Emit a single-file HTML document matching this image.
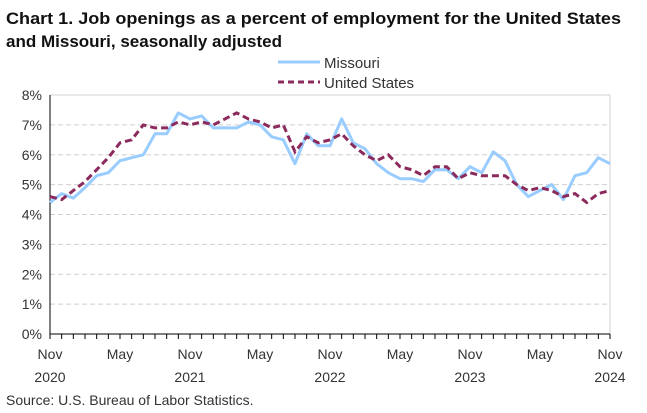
<!DOCTYPE html>
<html><head><meta charset="utf-8"><style>
body{margin:0;background:#fff;}
svg{display:block;font-family:"Liberation Sans",sans-serif;}
</style></head><body>
<svg width="647" height="413" viewBox="0 0 647 413">
<text x="6" y="24" font-size="16.5" font-weight="bold" fill="#111" textLength="615" lengthAdjust="spacingAndGlyphs">Chart 1. Job openings as a percent of employment for the United States</text>
<text x="6" y="47" font-size="16.5" font-weight="bold" fill="#111" textLength="276" lengthAdjust="spacingAndGlyphs">and Missouri, seasonally adjusted</text>
<g>
<line x1="278" y1="62" x2="320" y2="62" stroke="#99ccff" stroke-width="3"/>
<text x="324" y="68" font-size="15" fill="#333">Missouri</text>
<line x1="278" y1="82" x2="320" y2="82" stroke="#8b2a5c" stroke-width="3" stroke-dasharray="6,4"/>
<text x="324" y="88" font-size="15" fill="#333">United States</text>
</g>
<g id="grid"></g>
<g id="axes"></g>
<g id="series"></g>
<text x="6" y="405" font-size="14" fill="#333">Source: U.S. Bureau of Labor Statistics.</text>
</svg>
<script>
const yTicks=[0,1,2,3,4,5,6,7,8];
const xLabelIdx=[0,6,12,18,24,30,36,42,48];
const xLabelMonth=["Nov","May","Nov","May","Nov","May","Nov","May","Nov"];
const xLabelYear=["2020","","2021","","2022","","2023","","2024"];
const missouri=[4.4,4.7,4.55,4.9,5.3,5.4,5.8,5.9,6.0,6.7,6.7,7.4,7.2,7.3,6.9,6.9,6.9,7.1,7.0,6.6,6.5,5.7,6.7,6.3,6.3,7.2,6.4,6.2,5.7,5.4,5.2,5.2,5.1,5.5,5.5,5.2,5.6,5.4,6.1,5.8,5.0,4.6,4.8,5.0,4.5,5.3,5.4,5.9,5.7];
const unitedStates=[4.6,4.5,4.8,5.1,5.5,5.9,6.4,6.5,7.0,6.9,6.9,7.1,7.0,7.1,7.0,7.2,7.4,7.2,7.1,6.9,7.0,6.1,6.6,6.4,6.5,6.7,6.3,6.0,5.8,6.0,5.6,5.5,5.3,5.6,5.6,5.2,5.4,5.3,5.3,5.3,5.0,4.8,4.9,4.8,4.6,4.7,4.4,4.7,4.8];
const X0=50,X1=610,Y0=334,Y8=95;
const nPts=missouri.length;
const xs=i=>X0+(X1-X0)*i/(nPts-1);
const ys=v=>Y0-(Y0-Y8)*v/8;
const NS="http://www.w3.org/2000/svg";
function mk(tag,attrs,parent){const e=document.createElementNS(NS,tag);for(const k in attrs)e.setAttribute(k,attrs[k]);parent.appendChild(e);return e;}
const grid=document.getElementById('grid'),axes=document.getElementById('axes'),series=document.getElementById('series');
yTicks.forEach(t=>{
  if(t>0){const l=mk('line',{x1:X0,x2:X1,y1:ys(t),y2:ys(t),stroke:'#d0d0d0','stroke-width':1,'stroke-dasharray':t===8?'none':'5,3'},grid);
  
  }
  const tx=mk('text',{x:X0-8,y:ys(t)+5,'font-size':14,fill:'#333','text-anchor':'end'},axes);
  tx.textContent=t+'%';
  
  
});
const rb=mk('line',{x1:X1,x2:X1,y1:Y8,y2:Y0,stroke:'#d0d0d0','stroke-width':1},grid);


const ya=mk('line',{x1:X0,x2:X0,y1:Y8,y2:Y0,stroke:'#000','stroke-width':1},axes);


const xa=mk('line',{x1:X0,x2:X1,y1:Y0,y2:Y0,stroke:'#000','stroke-width':1},axes);


for(let i=0;i<nPts;i++){const tk=mk('line',{x1:xs(i),x2:xs(i),y1:Y0,y2:Y0+5,stroke:'#000','stroke-width':1},axes);

}
xLabelIdx.forEach((idx,j)=>{
  const a=mk('text',{x:xs(idx),y:359,'font-size':14,fill:'#333','text-anchor':'middle'},axes);a.textContent=xLabelMonth[j];
  
  
  if(xLabelYear[j]){const b=mk('text',{x:xs(idx),y:382,'font-size':14,fill:'#333','text-anchor':'middle'},axes);b.textContent=xLabelYear[j];
  
  }
});
function pts(arr){return arr.map((v,i)=>xs(i).toFixed(1)+','+ys(v).toFixed(1)).join(' ');}
const mo=mk('polyline',{points:pts(missouri),fill:'none',stroke:'#99ccff','stroke-width':3,'stroke-linejoin':'round'},series);


const us=mk('polyline',{points:pts(unitedStates),fill:'none',stroke:'#8b2a5c','stroke-width':3,'stroke-dasharray':'7,4'},series);


</script>
</body></html>
